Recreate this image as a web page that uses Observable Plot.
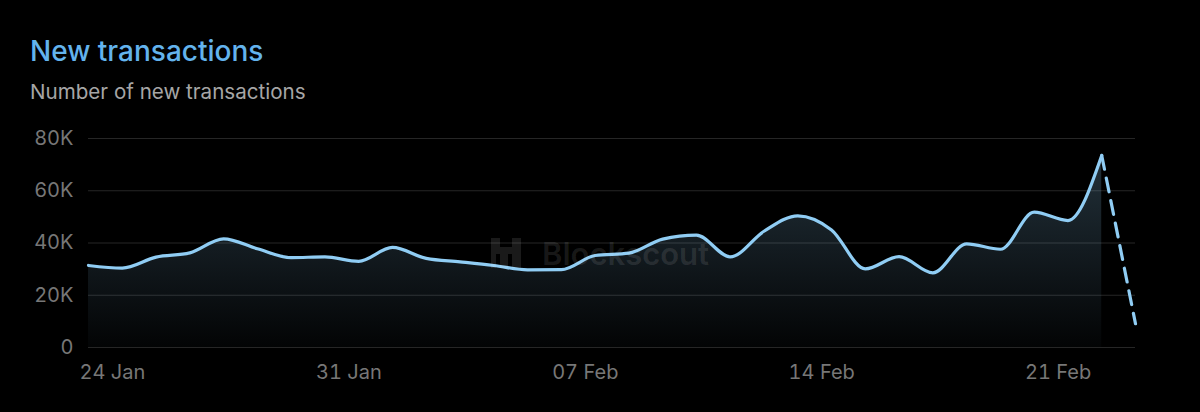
<!DOCTYPE html>
<html><head><meta charset="utf-8">
<script src="https://cdn.jsdelivr.net/npm/d3@7"></script>
<script src="https://cdn.jsdelivr.net/npm/@observablehq/plot@0.6"></script>
<style>
html,body{margin:0;background:#000;width:1200px;height:412px;overflow:hidden;font-family:Inter,"Noto Sans",sans-serif}
#title{position:absolute;left:30px;top:36.5px;font-size:28px;line-height:1;font-weight:500;color:#63b3ed;white-space:nowrap}
#subtitle{position:absolute;left:30px;top:82px;font-size:20.6px;line-height:1;color:#a6a6a6;white-space:nowrap}
#chart{position:absolute;left:0;top:120px}
#wm{position:absolute;left:488px;top:235px;display:flex;align-items:center;gap:18px;color:rgba(255,255,255,0.1);font-size:31px;font-weight:600;line-height:1;pointer-events:none}
</style></head><body>
<div id="title">New transactions</div>
<div id="subtitle">Number of new transactions</div>
<div id="chart"></div>
<div id="wm"><svg width="36" height="36" viewBox="0 0 36 36"><path d="M3 3h9v9h12V3h9v30h-9V19h-4v14h-8V19h-4v14H3z" fill="rgba(255,255,255,0.1)"/></svg><span>Blockscout</span></div>
<script>
const dates = ["2024-01-23","2024-01-24","2024-01-25","2024-01-26","2024-01-27","2024-01-28","2024-01-29","2024-01-30","2024-01-31","2024-02-01","2024-02-02","2024-02-03","2024-02-04","2024-02-05","2024-02-06","2024-02-07","2024-02-08","2024-02-09","2024-02-10","2024-02-11","2024-02-12","2024-02-13","2024-02-14","2024-02-15","2024-02-16","2024-02-17","2024-02-18","2024-02-19","2024-02-20","2024-02-21","2024-02-22","2024-02-23"];
const counts = [31400,30400,34600,36200,41600,37800,34400,34700,33000,38300,34100,32800,31400,29700,29800,35200,36100,41500,43000,34700,44500,50400,45000,30100,34800,28600,39700,37600,51800,48600,73500,9100];
const tickDates = ["2024-01-24","2024-01-31","2024-02-07","2024-02-14","2024-02-21"];
const tickLabels = ["24 Jan","31 Jan","07 Feb","14 Feb","21 Feb"];
const yTicks = [0,20000,40000,60000,80000];
const yTickLabels = ["0","20K","40K","60K","80K"];

const data = dates.map((d,i)=>({date:new Date(d+"T00:00:00Z"), value:counts[i]}));
const solid = data.slice(0, data.length-1);
const last = data.slice(data.length-2);
const tickPos = tickDates.map(d=>new Date(d+"T00:00:00+07:00"));
const tickMap = new Map(tickPos.map((d,i)=>[+d, tickLabels[i]]));
const yMap = new Map(yTicks.map((v,i)=>[v, yTickLabels[i]]));

const defs = () => {
  const g = d3.create("svg:defs");
  const lg = g.append("linearGradient").attr("id","areaGrad").attr("x1",0).attr("y1",0).attr("x2",0).attr("y2",1);
  lg.append("stop").attr("offset","0%").attr("stop-color","#90cdf4").attr("stop-opacity",0.24);
  lg.append("stop").attr("offset","100%").attr("stop-color","#90cdf4").attr("stop-opacity",0.02);
  return g.node();
};

const chart = Plot.plot({
  width: 1200,
  height: 280,
  marginTop: 18,
  marginBottom: 53,
  marginLeft: 88,
  marginRight: 65,
  style: {background:"transparent", fontFamily:"Inter, 'Noto Sans', sans-serif", fontSize:"20px", color:"#777"},
  x: {type:"time", domain:[data[0].date, data[data.length-1].date]},
  y: {domain:[0,80000]},
  marks: [
    defs,
    Plot.ruleY(yTicks, {stroke:"#262626", strokeWidth:1}),
    Plot.areaY(solid, {x:"date", y:"value", curve:"monotone-x", fill:"url(#areaGrad)"}),
    Plot.lineY(solid, {x:"date", y:"value", curve:"monotone-x", stroke:"#90cdf4", strokeWidth:3.2, strokeLinejoin:"round", strokeLinecap:"round"}),
    Plot.lineY(last, {x:"date", y:"value", stroke:"#90cdf4", strokeWidth:3.2, strokeDasharray:"14 9", strokeLinecap:"round"}),
    Plot.axisX({ticks:tickPos, tickFormat:d=>tickMap.get(+d), tickSize:0, tickPadding:17, label:null, fill:"#777", fontSize:20}),
    Plot.axisY({ticks:yTicks, tickFormat:v=>yMap.get(v), tickSize:0, tickPadding:15, label:null, fill:"#777", fontSize:20})
  ]
});
document.getElementById("chart").appendChild(chart);
</script>
</body></html>
